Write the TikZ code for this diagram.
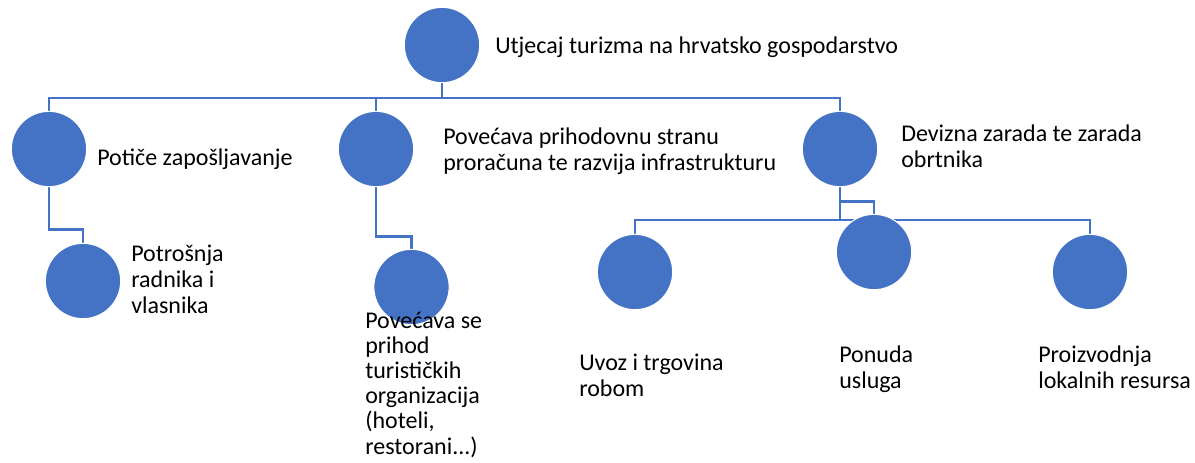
\documentclass[tikz,border=0pt]{standalone}
\usepackage{fontspec}
\setmainfont{Carlito}
\usetikzlibrary{shapes.geometric,backgrounds}
\definecolor{dotblue}{HTML}{4472C4}

\begin{document}
\begin{tikzpicture}[x=0.75pt,y=-0.75pt,
  dot/.style={ellipse,fill=dotblue,draw=white,line width=0.8pt,minimum width=56.5pt,minimum height=56.5pt,inner sep=0pt},
  txt/.style={anchor=base west,align=left,inner sep=0pt,font=\fontsize{18}{19.5}\selectfont},
  link/.style={draw=dotblue,line width=2.2pt}]
  \useasboundingbox (0,0) rectangle (1195,462);

  \node[dot] (top) at (442,45) {};
  \node[dot] (pot) at (49,149) {};
  \node[dot] (pri) at (376,149) {};
  \node[dot] (dev) at (840,149) {};
  \node[dot] (rad) at (83,281) {};
  \node[dot] (tur) at (411.5,287) {};
  \node[dot] (uvo) at (635,272) {};
  \node[dot] (pon) at (874,252) {};
  \node[dot] (loc) at (1090,272) {};

  % base anchor = last line
  \node[txt] (ttop) at (495,53) {Utjecaj turizma na hrvatsko gospodarstvo};
  \node[txt] (tpot) at (97,165) {Potiče zapošljavanje};
  \node[txt] (tpri) at (443,170) {Povećava prihodovnu stranu\\proračuna te razvija infrastrukturu};
  \node[txt] (tdev) at (901,167) {Devizna zarada te zarada\\obrtnika};
  \node[txt] (trad) at (131,313) {Potrošnja\\radnika i\\vlasnika};
  \node[txt,font=\fontsize{18}{18.8}\selectfont] (ttur) at (365,454) {Povećava se\\prihod\\turističkih\\organizacija\\(hoteli,\\restorani...)};
  \node[txt] (tuvo) at (579,396) {Uvoz i trgovina\\robom};
  \node[txt] (tpon) at (839,388) {Ponuda\\usluga};
  \node[txt] (tloc) at (1038,388) {Proizvodnja\\lokalnih resursa};

  \begin{pgfonlayer}{background}
    \coordinate (hub) at (442,98);
    \coordinate (devhub) at (840,220);
    \draw[link] (top.south) -- (hub) -| (pot.north);
    \draw[link] (hub) -| (pri.north);
    \draw[link] (hub) -| (dev.north);
    \draw[link] (pot.south) -- ++(0,42) -| (rad.north);
    \draw[link] (pri.south) -- ++(0,49) -| (tur.north);
    \draw[link] (dev.south) -- (devhub) -| (uvo.north);
    \draw[link] (devhub) -| (loc.north);
    \draw[link] (dev.south) -- ++(0,14) -| (pon.north);
  \end{pgfonlayer}
\end{tikzpicture}
\end{document}
